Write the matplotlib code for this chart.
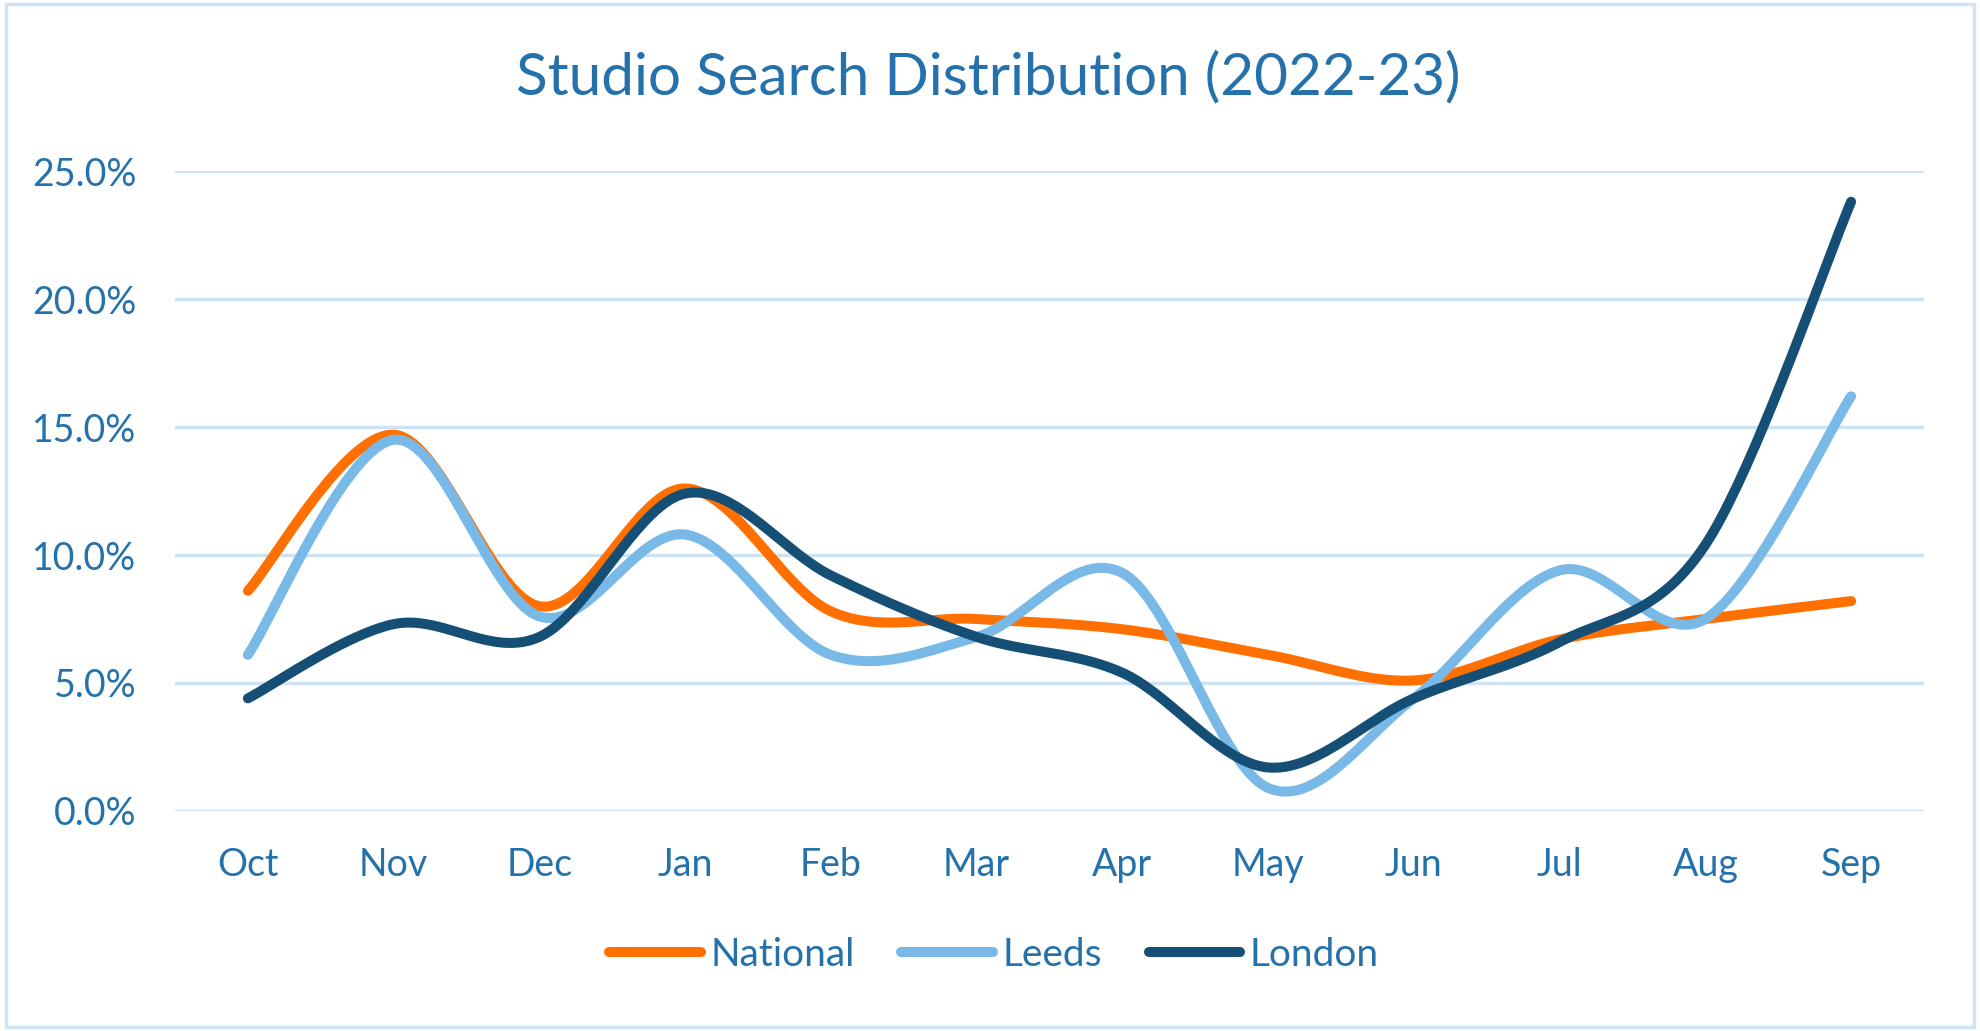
import numpy as np
import matplotlib.pyplot as plt
from matplotlib.ticker import PercentFormatter
from matplotlib.patches import Rectangle

plt.rcParams['font.family'] = ['Lato', 'DejaVu Sans']

months = ['Oct', 'Nov', 'Dec', 'Jan', 'Feb', 'Mar', 'Apr', 'May', 'Jun', 'Jul', 'Aug', 'Sep']
national = [8.6, 14.7, 8.0, 12.6, 7.8, 7.5, 7.1, 6.1, 5.1, 6.7, 7.5, 8.2]
leeds = [6.1, 14.5, 7.6, 10.8, 6.1, 6.8, 9.3, 0.9, 4.4, 9.4, 7.5, 16.2]
london = [4.4, 7.3, 6.8, 12.4, 9.2, 6.8, 5.4, 1.7, 4.4, 6.6, 10.4, 23.8]

series = [('National', national, '#FF7000'),
          ('Leeds', leeds, '#78B9E8'),
          ('London', london, '#154F75')]

TEXT = '#2471AB'
GRID = '#CDE3F4'


def smooth(x, y, n=40):
    # Excel-like smoothed line: Catmull-Rom segments as cubic Bezier
    x = np.asarray(x, float)
    y = np.asarray(y, float)
    px = np.concatenate([[x[0]], x, [x[-1]]])
    py = np.concatenate([[y[0]], y, [y[-1]]])
    t = np.linspace(0, 1, n)[:, None]
    xs, ys = [], []
    for i in range(len(x) - 1):
        p0 = np.array([px[i + 1], py[i + 1]])
        p3 = np.array([px[i + 2], py[i + 2]])
        p1 = p0 + (p3 - np.array([px[i], py[i]])) / 6
        p2 = p3 - (np.array([px[i + 3], py[i + 3]]) - p0) / 6
        b = ((1 - t) ** 3) * p0 + 3 * ((1 - t) ** 2) * t * p1 + 3 * (1 - t) * t ** 2 * p2 + t ** 3 * p3
        xs.append(b[:, 0])
        ys.append(b[:, 1])
    return np.concatenate(xs), np.concatenate(ys)


fig = plt.figure(figsize=(19.8, 10.31), dpi=100)
ax = fig.add_axes([0.0884, 0.2134, 0.8833, 0.6207])

xi = np.arange(len(months))
for name, vals, col in series:
    sx, sy = smooth(xi, np.array(vals) / 100)
    ax.plot(sx, sy, color=col, lw=7.2, solid_capstyle='round', label=name)

ax.set_xlim(-0.5, 11.5)
ax.set_ylim(0, 0.25)
ax.set_yticks(np.arange(0, 0.2501, 0.05))
ax.yaxis.set_major_formatter(PercentFormatter(1.0, decimals=1))
ax.set_xticks(xi)
ax.set_xticklabels(months)
ax.grid(axis='y', color=GRID, lw=2.4)
ax.set_axisbelow(True)
for s in ax.spines.values():
    s.set_visible(False)
ax.tick_params(length=0, labelsize=27, colors=TEXT)
ax.tick_params(axis='y', pad=28)
ax.tick_params(axis='x', pad=26)

fig.text(0.499, 0.925, 'Studio Search Distribution (2022-23)', ha='center', va='center',
         fontsize=42, color=TEXT)

leg = fig.legend(loc='center', bbox_to_anchor=(0.502, 0.074), ncol=3, frameon=False,
                 fontsize=28, handlelength=2.35, handletextpad=0.25, columnspacing=1.2)
for t in leg.get_texts():
    t.set_color(TEXT)

fig.patches.append(Rectangle((0.003, 0.004), 0.994, 0.992, transform=fig.transFigure,
                             fill=False, edgecolor='#CFE4F5', lw=2.5))

fig.savefig('out.png', dpi=100)
